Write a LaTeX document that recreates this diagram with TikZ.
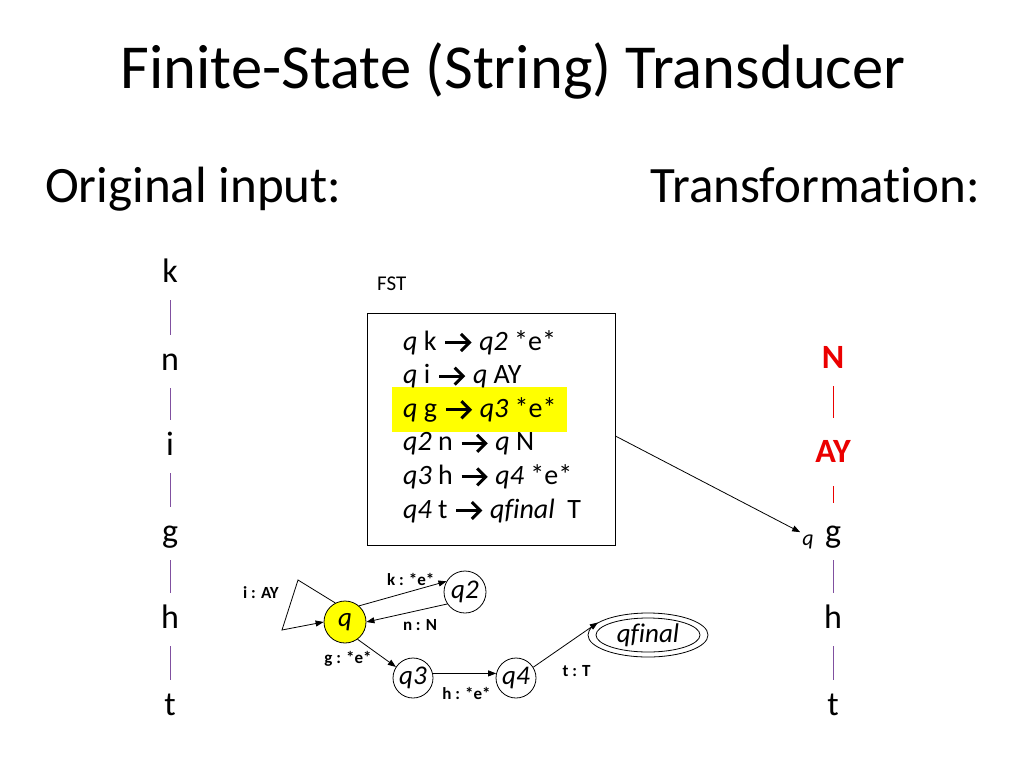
\documentclass[tikz,border=0pt]{standalone}
\usepackage{fontspec}
\setmainfont[Ligatures=NoCommon]{Carlito}
\usetikzlibrary{arrows.meta,shapes.geometric}
\definecolor{linep}{RGB}{128,80,160}
\definecolor{tred}{RGB}{235,0,0}
\definecolor{hl}{RGB}{255,255,0}
\newcommand{\rarr}{\hspace{1pt}\tikz[baseline=0pt,x=1pt,y=1pt]{\draw[line width=3pt] (0,7.5) -- (23,7.5); \draw[line width=3pt,line join=miter,miter limit=10] (15.5,16) -- (24,7.5) -- (15.5,-1);}\hspace{2pt}}
\newcommand{\fs}[1]{\fontsize{#1}{#1}\selectfont}
\begin{document}
\begin{tikzpicture}[x=1pt,y=-1pt,
 letter/.style={font=\fs{34}, inner sep=0pt, inner ysep=11pt, text height=24pt, text depth=7pt, anchor=base},
 col/.style={draw=linep, line width=0.8pt},
 colred/.style={draw=tred, line width=0.8pt},
 rule/.style={font=\fs{28}, anchor=base west, inner sep=0pt},
 state/.style={circle, draw, line width=0.8pt, minimum size=42pt, inner sep=0pt, font=\fs{27}\itshape},
 edge/.style={-{Triangle[length=8pt,width=6pt]}, line width=0.8pt},
 elab/.style={font=\fs{17}\bfseries, inner sep=0pt},
]
\useasboundingbox[fill=white] (0,0) rectangle (1024,768);

% titles
\node[font=\fs{62.6}, anchor=base, inner sep=0pt] (title) at (513,88) {Finite-State (String) Transducer};
\node[font=\fs{51}, anchor=base west, inner sep=0pt] (orig) at (45,202) {Original input:};
\node[font=\fs{51}, anchor=base east, inner sep=0pt] (trans) at (980,202) {Transformation:};

% left column
\node[letter] (lk) at (170,282) {k};
\node[letter] (ln) at (170,370) {n};
\node[letter] (li) at (170,455) {i};
\node[letter] (lg) at (170,542) {g};
\node[letter] (lh) at (170,628) {h};
\node[letter] (lt) at (170,715) {t};
\draw[col] (lk) -- (ln);
\draw[col] (ln) -- (li);
\draw[col] (li) -- (lg);
\draw[col] (lg) -- (lh);
\draw[col] (lh) -- (lt);

% right column
\node[letter, font=\fs{34}\bfseries, text=tred] (rN) at (833,368) {N};
\node[letter, font=\fs{34}\bfseries, text=tred] (rAY) at (833,462) {AY};
\node[letter] (rg) at (833,542) {g};
\node[letter] (rh) at (833,628) {h};
\node[letter] (rt) at (833,715) {t};
\node[font=\fs{22}\itshape, anchor=base, inner sep=2pt] (rq) at (808,545) {q};
\draw[colred, shorten >=9pt] (rN) -- (rAY);
\draw[colred, shorten <=6pt, shorten >=4pt] (rAY) -- (rg);
\draw[col] (rg) -- (rh);
\draw[col] (rh) -- (rt);

% FST box
\node[font=\fs{21}, anchor=base west, inner sep=0pt] (fstlab) at (377,290) {FST};
\node[draw, line width=0.8pt, minimum width=248pt, minimum height=232pt, inner sep=0pt] (box) at (491,429) {};
\node[fill=hl, minimum width=175pt, minimum height=45pt, inner sep=0pt] (hlbox) at (479.5,409.5) {};
\node[rule] (r1) at (403,350) {\textit{q} k \rarr{} \textit{q2} *e*};
\node[rule] (r2) at (403,383.6) {\textit{q} i \rarr{} \textit{q} AY};
\node[rule] (r3) at (403,417.2) {\textit{q} g \rarr{} \textit{q3} *e*};
\node[rule] (r4) at (403,450.8) {\textit{q2} n \rarr{} \textit{q} N};
\node[rule] (r5) at (403,484.4) {\textit{q3} h \rarr{} \textit{q4} *e*};
\node[rule] (r6) at (403,518) {\textit{q4} t \rarr{} \textit{qfinal}~ T};
\draw[edge] ([yshift=-7pt]box.east) -- (rq.north west);

% automaton
\node[state, fill=hl] (q) at (345,622) {q};
\node[state] (q2) at (465,592) {q2};
\node[state, minimum size=40pt] (q3) at (413,678) {q3};
\node[state, minimum size=40pt] (q4) at (516,678) {q4};
\node[ellipse, draw, line width=0.8pt, minimum width=120pt, minimum height=44pt, inner sep=0pt, font=\fs{27}\itshape] (qf) at (648,635) {qfinal};
\node[ellipse, draw, line width=0.8pt, minimum width=104pt, minimum height=34pt, inner sep=0pt] (qfin) at (qf.center) {};

\coordinate (l1) at (298,580);
\coordinate (l2) at (282,630);
\draw[edge] (q.117) -- (l1) -- (l2) -- (q.180);
\node[elab] (lab-i) at (261,593) {i : AY};

\draw[edge] (q.49) -- (q2.150) node[elab, midway, above=8pt, xshift=8pt] {k : *e*};
\draw[edge] (q2.214) -- (q.0) node[elab, pos=0.3, below=10pt, xshift=-3pt] {n : N};
\draw[edge] (q.-54) -- (q3.147) node[elab, pos=0.3, left=-3pt, yshift=-11pt] {g : *e*};
\draw[edge] (q3.13) -- (q4.167) node[elab, midway, below=14pt, xshift=2pt] {h : *e*};
\draw[edge] (q4.32) -- (qf.166) node[elab, midway, below=20pt, xshift=11pt] {t : T};
\end{tikzpicture}
\end{document}
